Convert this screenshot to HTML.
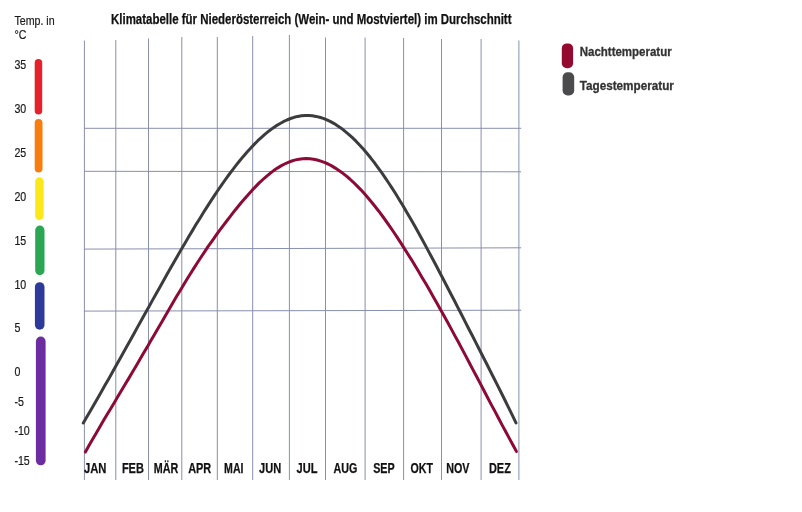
<!DOCTYPE html>
<html lang="de">
<head>
<meta charset="utf-8">
<title>Klimatabelle Niederösterreich</title>
<style>
html,body{margin:0;padding:0;background:#fff;}
body{width:802px;height:512px;overflow:hidden;}
svg{display:block;}
text{font-family:"Liberation Sans",Arial,sans-serif;}
.ax{font-size:12px;fill:#1a1a1a;stroke:#1a1a1a;stroke-width:0.2px;}
.mo{font-size:14px;font-weight:bold;fill:#111;stroke:#111;stroke-width:0.25px;}
.ti{font-size:14px;font-weight:bold;fill:#111;stroke:#111;stroke-width:0.25px;}
.lg{font-size:13px;font-weight:bold;fill:#333;stroke:#333;stroke-width:0.3px;}
</style>
</head>
<body>
<svg width="802" height="512" viewBox="0 0 802 512">
<rect width="802" height="512" fill="#ffffff"/>
<!-- grid -->
<g stroke="#898fae" stroke-width="1" fill="none">
<line x1="84.4" y1="40.5" x2="84.4" y2="480"/>
<line x1="115.8" y1="40" x2="115.8" y2="480"/>
<line x1="148.5" y1="38.5" x2="148.5" y2="480"/>
<line x1="181.8" y1="37" x2="181.8" y2="480"/>
<line x1="217.3" y1="37" x2="217.3" y2="480"/>
<line x1="252.7" y1="36" x2="252.7" y2="480"/>
<line x1="289.4" y1="35" x2="289.4" y2="480"/>
<line x1="325.5" y1="37.5" x2="325.5" y2="480"/>
<line x1="365.1" y1="37.5" x2="365.1" y2="480"/>
<line x1="403.6" y1="38" x2="403.6" y2="480"/>
<line x1="441.5" y1="39" x2="441.5" y2="480"/>
<line x1="481.1" y1="39" x2="481.1" y2="480"/>
<line x1="518.9" y1="40.5" x2="518.9" y2="480"/>
<line x1="84" y1="128.3" x2="521.2" y2="128.3"/>
<line x1="84" y1="171.3" x2="521.2" y2="171.8"/>
<line x1="84" y1="249.1" x2="521.2" y2="247.8"/>
<line x1="84" y1="311.1" x2="521.2" y2="310.2"/>
</g>
<!-- curves -->
<g fill="none" stroke-width="3" stroke-linecap="round" stroke-linejoin="round">
<polyline stroke="#3c3c3e" points="83.3,423.0 86.9,416.8 90.6,410.5 94.2,404.2 97.8,397.9 101.5,391.5 105.1,385.1 108.8,378.7 112.4,372.3 116.0,365.8 119.7,359.3 123.3,352.8 126.9,346.3 130.6,339.7 134.2,333.2 137.8,326.6 141.5,320.1 145.1,313.5 148.8,307.0 152.4,300.4 156.0,293.9 159.7,287.4 163.3,280.9 166.9,274.5 170.6,268.1 174.2,261.7 177.8,255.4 181.5,249.1 185.1,242.9 188.7,236.7 192.4,230.6 196.0,224.6 199.7,218.7 203.3,212.8 206.9,207.1 210.6,201.4 214.2,195.9 217.8,190.5 221.5,185.2 225.1,180.0 228.7,175.0 232.4,170.1 236.0,165.4 239.7,160.8 243.3,156.4 246.9,152.2 250.6,148.2 254.2,144.4 257.8,140.7 261.5,137.3 265.1,134.1 268.7,131.2 272.4,128.4 276.0,125.9 279.7,123.7 283.3,121.7 286.9,120.0 290.6,118.5 294.2,117.3 297.8,116.4 301.5,115.8 305.1,115.5 308.7,115.5 312.4,115.8 316.0,116.4 319.6,117.2 323.3,118.4 326.9,119.9 330.6,121.6 334.2,123.6 337.8,125.9 341.5,128.4 345.1,131.3 348.7,134.3 352.4,137.7 356.0,141.2 359.6,145.0 363.3,149.1 366.9,153.3 370.6,157.8 374.2,162.4 377.8,167.3 381.5,172.4 385.1,177.6 388.7,183.0 392.4,188.6 396.0,194.3 399.6,200.2 403.3,206.2 406.9,212.4 410.6,218.7 414.2,225.1 417.8,231.6 421.5,238.2 425.1,244.9 428.7,251.6 432.4,258.5 436.0,265.3 439.6,272.3 443.3,279.3 446.9,286.3 450.5,293.3 454.2,300.3 457.8,307.4 461.5,314.5 465.1,321.6 468.7,328.7 472.4,335.8 476.0,342.9 479.6,350.0 483.3,357.2 486.9,364.3 490.5,371.5 494.2,378.7 497.8,385.9 501.5,393.2 505.1,400.5 508.7,407.9 512.4,415.3 516.0,422.9"/>
<polyline stroke="#8c0a35" points="85.4,451.9 89.0,445.5 92.6,439.2 96.3,433.0 99.9,426.8 103.5,420.6 107.1,414.5 110.8,408.5 114.4,402.4 118.0,396.3 121.6,390.3 125.2,384.2 128.9,378.1 132.5,372.0 136.1,365.9 139.7,359.7 143.3,353.5 147.0,347.4 150.6,341.1 154.2,334.9 157.8,328.7 161.5,322.4 165.1,316.2 168.7,310.0 172.3,303.8 175.9,297.6 179.6,291.5 183.2,285.5 186.8,279.5 190.4,273.7 194.1,267.9 197.7,262.2 201.3,256.7 204.9,251.3 208.5,245.9 212.2,240.8 215.8,235.7 219.4,230.7 223.0,225.8 226.7,221.0 230.3,216.3 233.9,211.7 237.5,207.2 241.1,202.8 244.8,198.5 248.4,194.4 252.0,190.4 255.6,186.6 259.2,182.9 262.9,179.5 266.5,176.3 270.1,173.3 273.7,170.6 277.4,168.1 281.0,165.9 284.6,164.0 288.2,162.3 291.8,161.0 295.5,159.9 299.1,159.2 302.7,158.8 306.3,158.6 310.0,158.8 313.6,159.3 317.2,160.0 320.8,161.1 324.4,162.4 328.1,164.0 331.7,165.9 335.3,168.1 338.9,170.5 342.6,173.1 346.2,175.9 349.8,179.0 353.4,182.3 357.0,185.9 360.7,189.6 364.3,193.6 367.9,197.7 371.5,202.0 375.1,206.5 378.8,211.2 382.4,216.0 386.0,221.0 389.6,226.2 393.3,231.5 396.9,236.9 400.5,242.4 404.1,248.1 407.7,253.8 411.4,259.6 415.0,265.6 418.6,271.6 422.2,277.7 425.9,283.8 429.5,290.1 433.1,296.4 436.7,302.7 440.3,309.2 444.0,315.7 447.6,322.3 451.2,328.9 454.8,335.6 458.5,342.3 462.1,349.1 465.7,355.9 469.3,362.7 472.9,369.6 476.6,376.5 480.2,383.4 483.8,390.3 487.4,397.2 491.0,404.1 494.7,410.9 498.3,417.8 501.9,424.6 505.5,431.3 509.2,438.1 512.8,444.8 516.4,451.4"/>
</g>
<!-- scale bars -->
<g>
<rect x="34.7" y="59" width="7.5" height="55.4" rx="3.75" fill="#e6212a"/>
<rect x="34.7" y="118.9" width="7.8" height="53.6" rx="3.9" fill="#f77d0e"/>
<rect x="35.2" y="177.2" width="8.5" height="42.8" rx="4.25" fill="#fbe81a"/>
<rect x="35.2" y="225.6" width="9.3" height="49.6" rx="4.65" fill="#2ba652"/>
<rect x="34.9" y="282.2" width="9.6" height="47.5" rx="4.8" fill="#2e3a99"/>
<rect x="35.9" y="336.6" width="9.7" height="128.7" rx="4.85" fill="#6b2d9f"/>
</g>
<!-- axis labels -->
<g class="ax" transform="translate(14.4,0) scale(0.887,1)">
<text x="0" y="24.8">Temp. in</text>
<text x="0" y="38.8">°C</text>
<text x="0" y="68.6">35</text>
<text x="0" y="112.6">30</text>
<text x="0" y="156.6">25</text>
<text x="0" y="200.6">20</text>
<text x="0" y="244.6">15</text>
<text x="0" y="288.6">10</text>
<text x="0" y="332.4">5</text>
<text x="0" y="376.2">0</text>
<text x="0" y="405.8">-5</text>
<text x="0" y="435.2">-10</text>
<text x="0" y="464.6">-15</text>
</g>
<!-- months -->
<g class="mo">
<text x="84" y="473" textLength="22.5" lengthAdjust="spacingAndGlyphs">JAN</text>
<text x="121.9" y="473" textLength="22" lengthAdjust="spacingAndGlyphs">FEB</text>
<text x="153.8" y="473" textLength="24.5" lengthAdjust="spacingAndGlyphs">MÄR</text>
<text x="188.2" y="473" textLength="23" lengthAdjust="spacingAndGlyphs">APR</text>
<text x="224.1" y="473" textLength="19.4" lengthAdjust="spacingAndGlyphs">MAI</text>
<text x="259.1" y="473" textLength="22.1" lengthAdjust="spacingAndGlyphs">JUN</text>
<text x="296.6" y="473" textLength="20.9" lengthAdjust="spacingAndGlyphs">JUL</text>
<text x="333.4" y="473" textLength="23.9" lengthAdjust="spacingAndGlyphs">AUG</text>
<text x="373.2" y="473" textLength="21.5" lengthAdjust="spacingAndGlyphs">SEP</text>
<text x="410.6" y="473" textLength="22.4" lengthAdjust="spacingAndGlyphs">OKT</text>
<text x="446.2" y="473" textLength="23.3" lengthAdjust="spacingAndGlyphs">NOV</text>
<text x="489" y="473" textLength="21.8" lengthAdjust="spacingAndGlyphs">DEZ</text>
</g>
<!-- title -->
<text class="ti" x="111" y="23.7" textLength="400.5" lengthAdjust="spacingAndGlyphs">Klimatabelle für Niederösterreich (Wein- und Mostviertel) im Durchschnitt</text>
<!-- legend -->
<rect x="561.8" y="43.4" width="11.3" height="24.8" rx="5" fill="#96092f"/>
<rect x="562.6" y="72.2" width="11.6" height="23.2" rx="5" fill="#4b4b4d"/>
<text class="lg" x="579.7" y="55.9" textLength="92" lengthAdjust="spacingAndGlyphs">Nachttemperatur</text>
<text class="lg" x="579.7" y="89.6" textLength="94.2" lengthAdjust="spacingAndGlyphs">Tagestemperatur</text>
</svg>
</body>
</html>
